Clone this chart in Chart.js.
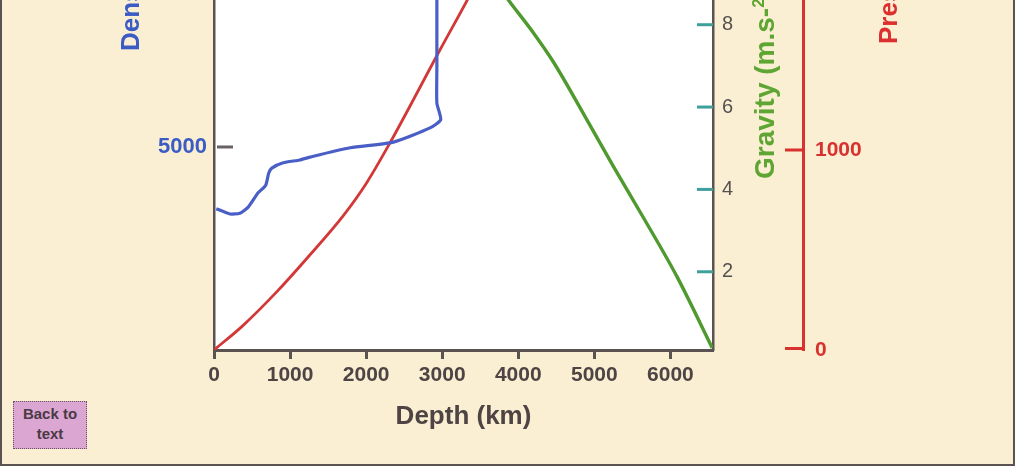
<!DOCTYPE html>
<html>
<head>
<meta charset="utf-8">
<script src="https://cdn.jsdelivr.net/npm/chart.js@4.4.1/dist/chart.umd.min.js"></script>
<style>
  html, body { margin: 0; padding: 0; background: #fff; overflow: hidden; }
  body { width: 1023px; height: 472px; position: relative; font-family: "Liberation Sans", Arial, sans-serif; }
  #frame { position: absolute; left: 0; top: -10px; width: 1011px; height: 472px; background: #fbefd3; border: 2px solid #5b5352; }
  #wrap { position: absolute; left: 0; top: 0; width: 1023px; height: 472px; }
  .ttl { position: absolute; transform: rotate(-90deg); transform-origin: 0 0; white-space: nowrap;
         font-weight: bold; font-size: 26px; line-height: 26px; }
  .ttl sup { font-size: 17px; }
  #back { position: absolute; left: 13px; top: 401px; width: 72px; height: 44px; background: #dca6d3;
          border: 1px dotted #6a5060; color: #4a3a44; font-weight: bold; font-size: 15px; line-height: 20px;
          text-align: center; padding-top: 2px; box-sizing: content-box; }
</style>
</head>
<body>
<div id="frame"></div>
<div id="wrap"><canvas id="chart"></canvas></div>
<div class="ttl" style="left:111px; top:51px; color:#3b5cc4;">Density (kg.m-<sup>3</sup>)</div>
<div class="ttl" style="left:745px; top:179px; color:#5fa533; font-size:28px; line-height:28px;">Gravity (m.s-<sup>2</sup>)</div>
<div class="ttl" style="left:875px; top:44px; color:#dc2f2f;">Pressure (kbar)</div>
<div id="back">Back to<br>text</div>
<script>
// 刻度
const depthTicks = [0, 1000, 2000, 3000, 4000, 5000, 6000];
const densityTicks = [5000];
const gravityTicks = [2, 4, 6, 8];
const pressureTicks = [0, 1000];

// 密度 (kg/m3) 随深度
const densityDepth = [30, 210, 340, 450, 580, 680, 720, 760, 910, 1130, 1260, 1790, 2360, 2840, 2980, 2930, 2930, 2930, 2930];
const densityVal   = [3480, 3350, 3370, 3520, 3870, 4060, 4360, 4480, 4610, 4680, 4750, 4980, 5120, 5470, 5670, 6080, 6970, 8600, 9900];

// 重力 (m/s2)，只画核内部分
const gravityDepth = [2900, 3600, 3870, 4200, 4460, 4860, 5250, 5650, 6090, 6550];
const gravityVal   = [10.7, 9.3, 8.6, 7.8, 7.1, 5.83, 4.56, 3.3, 1.87, 0.15];

// 压力
const pressureDepth = [0, 380, 830, 1260, 1700, 2010, 2320, 2970, 3330, 3700];
const pressureVal   = [0, 122, 293, 475, 672, 838, 1040, 1500, 1750, 2020];

const toPts = (xs, ys) => xs.map((x, i) => ({ x, y: ys[i] }));
const setTicks = (list) => (axis) => { axis.ticks = list.map((v) => ({ value: v })); };
const noPad = (axis) => { axis.paddingTop = 0; axis.paddingBottom = 0; };
const plain = (v) => String(v);

const FONT = '"Liberation Sans", Arial, sans-serif';
const GRAY = '#5b5352';

const decor = {
  id: 'decor',
  beforeDraw(chart) {
    const { ctx, chartArea: a } = chart;
    ctx.save();
    ctx.fillStyle = '#ffffff';
    ctx.fillRect(a.left, a.top, a.right - a.left, a.bottom - a.top);
    ctx.restore();
  },
  afterDraw(chart) {
    const { ctx, scales: s } = chart;
    const mark = (x1, x2, y, color) => {
      ctx.save();
      ctx.strokeStyle = color;
      ctx.lineWidth = 3;
      ctx.beginPath(); ctx.moveTo(x1, y); ctx.lineTo(x2, y); ctx.stroke();
      ctx.restore();
    };
    const xl = s.yD.right, xg = s.yG.left, xp = s.yP.left;
    densityTicks.forEach((v) => mark(xl + 3, xl + 19, s.yD.getPixelForValue(v), '#6a6262'));
    gravityTicks.forEach((v) => mark(xg - 16, xg, s.yG.getPixelForValue(v), '#3f9f9a'));
    pressureTicks.forEach((v) => mark(xp - 18, xp, s.yP.getPixelForValue(v) - (v === 0 ? 1.5 : 0), '#d8312f'));
  },
};

new Chart(document.getElementById('chart'), {
  type: 'line',
  data: {
    datasets: [
      { data: toPts(densityDepth, densityVal), yAxisID: 'yD', borderColor: '#4a5fc6', borderWidth: 3.2, tension: 0.2 },
      { data: toPts(pressureDepth, pressureVal), yAxisID: 'yP', borderColor: '#d23838', borderWidth: 2.8, cubicInterpolationMode: 'monotone' },
      { data: toPts(gravityDepth, gravityVal), yAxisID: 'yG', borderColor: '#4f9a2e', borderWidth: 3.4, cubicInterpolationMode: 'monotone' },
    ],
  },
  options: {
    responsive: true,
    maintainAspectRatio: false,
    animation: false,
    layout: { padding: 0 },
    elements: { point: { radius: 0 } },
    plugins: { legend: { display: false }, tooltip: { enabled: false } },
    scales: {
      x: {
        type: 'linear', position: 'bottom', min: 0, max: 6560,
        afterBuildTicks: setTicks(depthTicks),
        afterFit: (a) => { a.height = 122; },
        grid: { drawOnChartArea: false, drawTicks: true, tickLength: 9, tickWidth: 3, color: GRAY },
        border: { display: true, color: GRAY, width: 3 },
        ticks: { callback: plain, color: '#4e4444', padding: 4, font: { family: FONT, size: 21, weight: 'bold' } },
        title: { display: true, text: 'Depth (km)', color: '#4e4444', padding: { top: 4, bottom: 40 },
                 font: { family: FONT, size: 26, weight: 'bold' } },
      },
      yD: {
        type: 'linear', position: 'left', min: 0, max: 8620,
        afterBuildTicks: setTicks(densityTicks),
        afterFit: (a) => { a.width = 214; noPad(a); },
        grid: { display: false, drawTicks: false },
        border: { display: true, color: GRAY, width: 2.5 },
        ticks: { callback: plain, color: '#3b5cc4', padding: 7, font: { family: FONT, size: 22, weight: 'bold' } },
      },
      yG: {
        type: 'linear', position: 'right', weight: 0, min: 0.1, max: 8.6,
        afterBuildTicks: setTicks(gravityTicks),
        afterFit: (a) => { a.width = 90; noPad(a); },
        grid: { display: false, drawTicks: false },
        border: { display: true, color: GRAY, width: 2.5 },
        ticks: { callback: plain, color: '#555050', padding: 9, font: { family: FONT, size: 20 } },
      },
      yP: {
        type: 'linear', position: 'right', weight: 1, min: 0, max: 1750,
        afterBuildTicks: setTicks(pressureTicks),
        afterFit: (a) => { a.width = 220; noPad(a); },
        grid: { display: false, drawTicks: false },
        border: { display: true, color: '#d8312f', width: 3 },
        ticks: { callback: plain, color: '#d8312f', padding: 12, font: { family: FONT, size: 21, weight: 'bold' } },
      },
    },
  },
  plugins: [decor],
});
</script>
</body>
</html>
